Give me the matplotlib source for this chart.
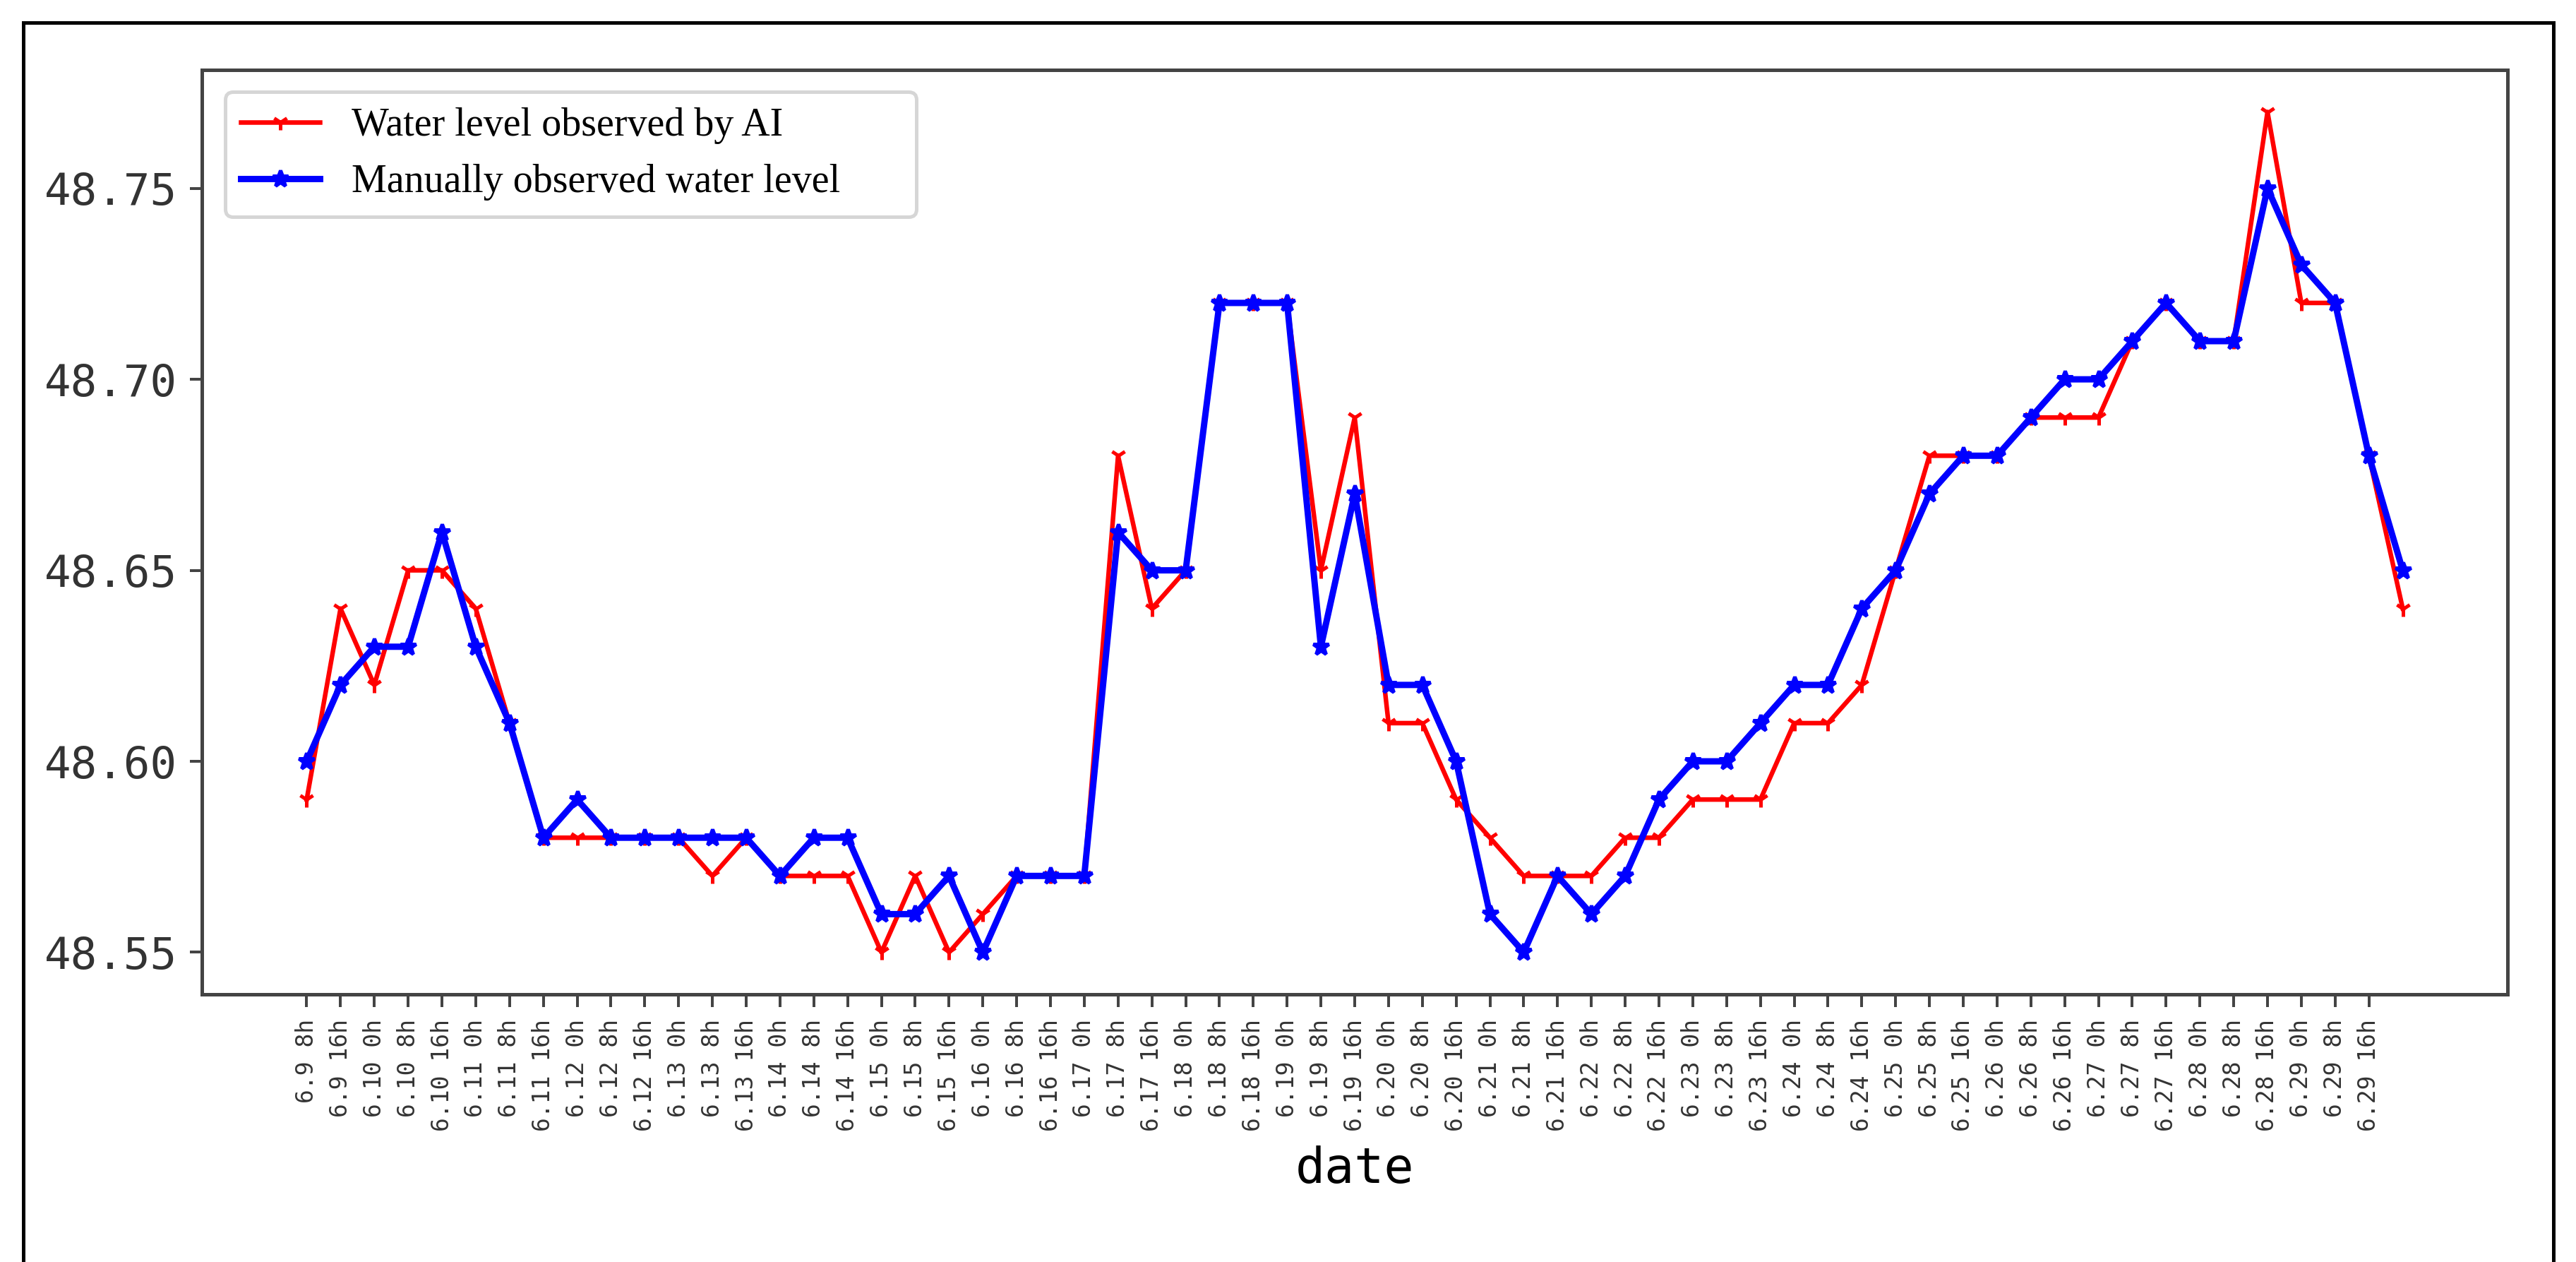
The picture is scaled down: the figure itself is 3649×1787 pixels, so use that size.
import matplotlib
matplotlib.use("Agg")
import matplotlib.pyplot as plt
from matplotlib.lines import Line2D
import numpy as np

# ---------------- data ----------------
tick_labels = [
    "6.9 8h", "6.9 16h",
    "6.10 0h", "6.10 8h", "6.10 16h",
    "6.11 0h", "6.11 8h", "6.11 16h",
    "6.12 0h", "6.12 8h", "6.12 16h",
    "6.13 0h", "6.13 8h", "6.13 16h",
    "6.14 0h", "6.14 8h", "6.14 16h",
    "6.15 0h", "6.15 8h", "6.15 16h",
    "6.16 0h", "6.16 8h", "6.16 16h",
    "6.17 0h", "6.17 8h", "6.17 16h",
    "6.18 0h", "6.18 8h", "6.18 16h",
    "6.19 0h", "6.19 8h", "6.19 16h",
    "6.20 0h", "6.20 8h", "6.20 16h",
    "6.21 0h", "6.21 8h", "6.21 16h",
    "6.22 0h", "6.22 8h", "6.22 16h",
    "6.23 0h", "6.23 8h", "6.23 16h",
    "6.24 0h", "6.24 8h", "6.24 16h",
    "6.25 0h", "6.25 8h", "6.25 16h",
    "6.26 0h", "6.26 8h", "6.26 16h",
    "6.27 0h", "6.27 8h", "6.27 16h",
    "6.28 0h", "6.28 8h", "6.28 16h",
    "6.29 0h", "6.29 8h", "6.29 16h",
]

ai_level = [
    48.59, 48.64, 48.62, 48.65, 48.65, 48.64, 48.61, 48.58, 48.58, 48.58,
    48.58, 48.58, 48.57, 48.58, 48.57, 48.57, 48.57, 48.55, 48.57, 48.55,
    48.56, 48.57, 48.57, 48.57, 48.68, 48.64, 48.65, 48.72, 48.72, 48.72,
    48.65, 48.69, 48.61, 48.61, 48.59, 48.58, 48.57, 48.57, 48.57, 48.58,
    48.58, 48.59, 48.59, 48.59, 48.61, 48.61, 48.62, 48.65, 48.68, 48.68,
    48.68, 48.69, 48.69, 48.69, 48.71, 48.72, 48.71, 48.71, 48.77, 48.72,
    48.72, 48.68, 48.64,
]

manual_level = [
    48.60, 48.62, 48.63, 48.63, 48.66, 48.63, 48.61, 48.58, 48.59, 48.58,
    48.58, 48.58, 48.58, 48.58, 48.57, 48.58, 48.58, 48.56, 48.56, 48.57,
    48.55, 48.57, 48.57, 48.57, 48.66, 48.65, 48.65, 48.72, 48.72, 48.72,
    48.63, 48.67, 48.62, 48.62, 48.60, 48.56, 48.55, 48.57, 48.56, 48.57,
    48.59, 48.60, 48.60, 48.61, 48.62, 48.62, 48.64, 48.65, 48.67, 48.68,
    48.68, 48.69, 48.70, 48.70, 48.71, 48.72, 48.71, 48.71, 48.75, 48.73,
    48.72, 48.68, 48.65,
]

legend_labels = ["Water level observed by AI", "Manually observed water level"]
y_ticks = [48.55, 48.60, 48.65, 48.70, 48.75]

# ---------------- figure ----------------
W, H, DPI = 3649, 1787, 360
fig = plt.figure(figsize=(W / DPI, H / DPI), dpi=DPI)
fig.patch.set_facecolor("white")

ax = fig.add_axes([286 / W, 1 - 1408 / H, (3552 - 286) / W, (1408 - 99) / H])

x = np.arange(len(ai_level))
ax.plot(x, ai_level, color="red", lw=1.3, marker="1", markersize=4.5,
        markeredgewidth=1.0, label=legend_labels[0])
ax.plot(x, manual_level, color="blue", lw=1.8, marker="*", markersize=4.8,
        label=legend_labels[1])

ax.set_xticks(x[:len(tick_labels)])
ax.set_xticklabels(tick_labels, rotation=90, fontsize=6.6,
                   family=["DejaVu Sans Mono"], color="#333333")
ax.set_yticks(y_ticks)
ax.set_yticklabels([f"{v:.2f}" for v in y_ticks], fontsize=12.5,
                   family=["DejaVu Sans Mono"], color="#333333")
ax.set_xlabel("date", fontsize=14, family=["DejaVu Sans Mono"], labelpad=4)

for s in ax.spines.values():
    s.set_color("#444444")
    s.set_linewidth(1.0)
ax.tick_params(color="#444444")

ax_w = 3552 - 286
ax_h = 1408 - 99
leg = ax.legend(loc="upper left",
                bbox_to_anchor=((319 - 286) / ax_w, (1408 - 130) / ax_h, 979 / ax_w, 0.0),
                mode="expand", borderaxespad=0.0,
                prop={"family": "Liberation Serif", "size": 11.2})

# outer frame (screenshot border, open at the bottom)
for xs, ys in [([33 / W, 33 / W], [0, 1 - 32 / H]),
               ([3617 / W, 3617 / W], [0, 1 - 32 / H]),
               ([33 / W, 3617 / W], [1 - 32 / H, 1 - 32 / H])]:
    fig.add_artist(Line2D(xs, ys, transform=fig.transFigure, color="black", lw=1.0))

fig.savefig("out.png", dpi=DPI)
